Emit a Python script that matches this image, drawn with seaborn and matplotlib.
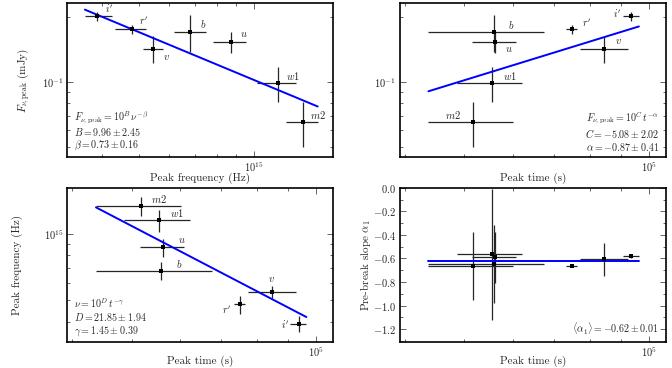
import numpy as np
import pandas as pd
import matplotlib
matplotlib.use("Agg")
import matplotlib.pyplot as plt
from matplotlib.ticker import NullFormatter, MultipleLocator
import seaborn as sns

# data
filters = ["i'", "r'", "v", "b", "u", "w1", "m2"]
nu_peak = [3.89e14, 4.80e14, 5.46e14, 6.82e14, 8.70e14, 1.156e15, 1.345e15]
nu_lo = [3.61e14, 4.34e14, 5.13e14, 6.19e14, 7.85e14, 1.024e15, 1.214e15]
nu_hi = [4.26e14, 5.23e14, 5.80e14, 7.48e14, 9.53e14, 1.290e15, 1.473e15]
flux_peak = [0.201, 0.175, 0.142, 0.170, 0.153, 0.099, 0.0655]
flux_err = [0.0095, 0.008, 0.020, 0.033, 0.017, 0.018, 0.0155]
t_peak = [9.35e4, 7.50e4, 8.45e4, 5.58e4, 5.62e4, 5.54e4, 5.17e4]
t_lo = [9.07e4, 7.33e4, 7.73e4, 4.37e4, 5.15e4, 4.86e4, 4.37e4]
t_hi = [9.63e4, 7.64e4, 9.25e4, 6.75e4, 6.08e4, 6.22e4, 6.01e4]
alpha1 = [-0.58, -0.663, -0.606, -0.649, -0.591, -0.566, -0.663]
alpha1_err = [0.015, 0.01, 0.14, 0.33, 0.22, 0.56, 0.29]

# fit results shown in the panels
B, beta = 9.96, 0.73
C, alpha = -5.08, -0.87
D, gamma = 21.85, 1.45
alpha1_mean = -0.625

df = pd.DataFrame({"filter": filters, "nu": nu_peak, "nu_lo": nu_lo, "nu_hi": nu_hi,
                   "flux": flux_peak, "flux_err": flux_err,
                   "t": t_peak, "t_lo": t_lo, "t_hi": t_hi,
                   "a1": alpha1, "a1_err": alpha1_err})
df["label"] = ["$" + f + "$" for f in df["filter"]]
nu_err = [df["nu"] - df["nu_lo"], df["nu_hi"] - df["nu"]]
t_err = [df["t"] - df["t_lo"], df["t_hi"] - df["t"]]

sns.set_style("ticks")
plt.rcParams["font.family"] = "serif"
plt.rcParams["font.serif"] = ["cmr10", "DejaVu Serif"]
plt.rcParams["mathtext.fontset"] = "cm"
plt.rcParams["axes.formatter.use_mathtext"] = True
plt.rcParams["axes.unicode_minus"] = True

fig, axes = plt.subplots(2, 2, figsize=(6.72, 3.68), dpi=100)
fig.subplots_adjust(left=0.0997, right=0.991, bottom=0.0707, top=0.9918,
                    wspace=0.248, hspace=0.2)
ax1, ax2, ax3, ax4 = axes.ravel()

nu_lim = (3.24e14, 1.62e15)
f_lim = (0.0451, 0.231)
t_lim = (3.92e4, 1.066e5)
eb = dict(fmt="none", ecolor="0.15", elinewidth=0.9, capsize=0)
txt = 7.2

def draw_points(ax, x, y, xerr, yerr):
    ax.errorbar(df[x], df[y], xerr=xerr, yerr=yerr, **eb)
    sns.scatterplot(data=df, x=x, y=y, ax=ax, color="k", marker="s", s=9,
                    edgecolor="k", linewidth=0, zorder=5, legend=False)

def label_points(ax, x, y, offsets):
    for i, row in df.iterrows():
        ax.annotate(row["label"], (row[x], row[y]), xytext=offsets[row["filter"]],
                    textcoords="offset pixels", fontsize=7.5, ha="center", va="center")

# panel 1: flux vs frequency
draw_points(ax1, "nu", "flux", nu_err, df["flux_err"])
nu_line = np.array([df["nu_lo"].min(), df["nu_hi"].max()])
sns.lineplot(x=nu_line, y=10 ** B * nu_line ** -beta, ax=ax1, color="#0000ff", lw=1.4)
label_points(ax1, "nu", "flux", {"i'": (12, 7), "r'": (12, 8), "v": (13, -8), "b": (13, 8),
                                 "u": (13, 8), "w1": (15, 7), "m2": (15, 7)})
ax1.set_xscale("log"); ax1.set_yscale("log")
ax1.set_xlim(nu_lim); ax1.set_ylim(f_lim)
ax1.set_xlabel("Peak frequency (Hz)")
ax1.set_ylabel(r"$F_{\nu,\rm peak}$ (mJy)")
ax1.yaxis.set_label_coords(-0.13, 0.5)
ax1.text(0.025, 0.025, r"$F_{\nu,\rm peak} = 10^{B}\,\nu^{-\beta}$" + "\n" +
         r"$B = 9.96 \pm 2.45$" + "\n" + r"$\beta = 0.73 \pm 0.16$",
         transform=ax1.transAxes, fontsize=txt, ha="left", va="bottom", linespacing=1.1)

# panel 2: flux vs time
draw_points(ax2, "t", "flux", t_err, df["flux_err"])
t_line = np.array([df["t_lo"].min(), df["t_hi"].max()])
sns.lineplot(x=t_line, y=10 ** C * t_line ** -alpha, ax=ax2, color="#0000ff", lw=1.4)
label_points(ax2, "t", "flux", {"i'": (-14, 2), "r'": (14, 6), "v": (14, 8), "b": (18, 7),
                                "u": (13, -7), "w1": (18, 7), "m2": (-20, 7)})
ax2.set_xscale("log"); ax2.set_yscale("log")
ax2.set_xlim(t_lim); ax2.set_ylim(f_lim)
ax2.set_xlabel("Peak time (s)")
ax2.set_ylabel("")
ax2.text(0.975, 0.025, r"$F_{\nu,\rm peak} = 10^{C}\,t^{-\alpha}$" + "\n" +
         r"$C = -5.08 \pm 2.02$" + "\n" + r"$\alpha = -0.87 \pm 0.41$",
         transform=ax2.transAxes, fontsize=txt, ha="right", va="bottom", linespacing=1.1,
         multialignment="right")

# panel 3: frequency vs time
draw_points(ax3, "t", "nu", t_err, nu_err)
sns.lineplot(x=t_line, y=10 ** D * t_line ** -gamma, ax=ax3, color="#0000ff", lw=1.4)
label_points(ax3, "t", "nu", {"i'": (-13, 0), "r'": (-13, -6), "v": (0, 13), "b": (18, 7),
                              "u": (19, 7), "w1": (18, 7), "m2": (18, 7)})
ax3.set_xscale("log"); ax3.set_yscale("log")
ax3.set_xlim(t_lim); ax3.set_ylim(nu_lim)
ax3.set_xlabel("Peak time (s)")
ax3.set_ylabel("Peak frequency (Hz)")
ax3.yaxis.set_label_coords(-0.165, 0.5)
ax3.text(0.025, 0.025, r"$\nu = 10^{D}\,t^{-\gamma}$" + "\n" +
         r"$D = 21.85 \pm 1.94$" + "\n" + r"$\gamma = 1.45 \pm 0.39$",
         transform=ax3.transAxes, fontsize=txt, ha="left", va="bottom", linespacing=1.1)

# panel 4: pre-break slope vs time
draw_points(ax4, "t", "a1", t_err, df["a1_err"])
sns.lineplot(x=t_line, y=[alpha1_mean, alpha1_mean], ax=ax4, color="#0000ff", lw=1.4)
ax4.set_xscale("log")
ax4.set_xlim(t_lim); ax4.set_ylim(-1.31, 0.0)
ax4.yaxis.set_major_locator(MultipleLocator(0.2))
ax4.yaxis.set_minor_locator(MultipleLocator(0.1))
ax4.set_xlabel("Peak time (s)")
ax4.set_ylabel(r"Pre-break slope $\alpha_1$")
ax4.yaxis.set_label_coords(-0.1, 0.5)
ax4.text(0.975, 0.035, r"$\langle\alpha_1\rangle = -0.62 \pm 0.01$",
         transform=ax4.transAxes, fontsize=txt, ha="right", va="bottom")

for ax in axes.ravel():
    ax.xaxis.set_minor_formatter(NullFormatter())
    ax.yaxis.set_minor_formatter(NullFormatter())
    ax.tick_params(which="both", direction="in", top=True, right=True,
                   labelsize=7.5, width=0.6, color="0.3", pad=2.5)
    ax.tick_params(which="major", length=4)
    ax.tick_params(which="minor", length=2)
    ax.xaxis.label.set_size(8)
    ax.yaxis.label.set_size(8)
    for sp in ax.spines.values():
        sp.set_linewidth(1.2)
        sp.set_color("k")

for ax in (ax1, ax2):
    ax.xaxis.set_label_coords(0.5, -0.1)
for ax in (ax3, ax4):
    ax.xaxis.set_label_coords(0.5, -0.09)

fig.savefig("out.png", dpi=100)
